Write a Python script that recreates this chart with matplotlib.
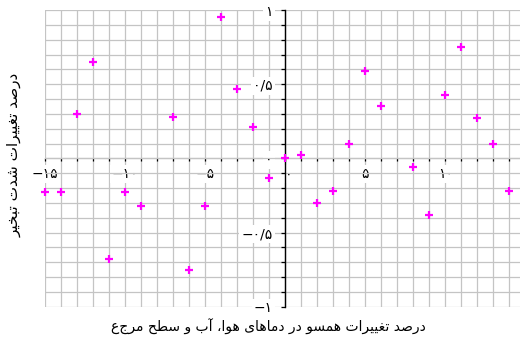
import numpy as np
import matplotlib.pyplot as plt
from matplotlib.transforms import ScaledTranslation

# values
x_vals = [-15, -14, -13, -12, -11, -10, -9, -7, -6, -5, -4, -3, -2, -1,
          0, 1, 2, 3, 4, 5, 6, 8, 9, 10, 11, 12, 13, 14]
y_vals = [-0.23, -0.23, 0.30, 0.65, -0.68, -0.23, -0.32, 0.28, -0.75, -0.32,
          0.95, 0.47, 0.21, -0.13, 0.00, 0.02, -0.30, -0.22, 0.10, 0.59,
          0.35, -0.06, -0.38, 0.43, 0.75, 0.27, 0.10, -0.22]

x_label = "درصد تغییرات همسو در دماهای هوا، آب و سطح مرجع"
y_label = "درصد تغییرات شدت تبخیر"

x_major = [-15, -10, -5, 0, 5, 10, 15]
y_major = [-1, -0.5, 0, 0.5, 1]

# presentation forms: isolated, final, initial, medial
FORMS = {
    'ا': ('\uFE8D', '\uFE8E', None, None),
    'آ': ('\uFE81', '\uFE82', None, None),
    'ب': ('\uFE8F', '\uFE90', '\uFE91', '\uFE92'),
    'ت': ('\uFE95', '\uFE96', '\uFE97', '\uFE98'),
    'ج': ('\uFE9D', '\uFE9E', '\uFE9F', '\uFEA0'),
    'ح': ('\uFEA1', '\uFEA2', '\uFEA3', '\uFEA4'),
    'خ': ('\uFEA5', '\uFEA6', '\uFEA7', '\uFEA8'),
    'د': ('\uFEA9', '\uFEAA', None, None),
    'ر': ('\uFEAD', '\uFEAE', None, None),
    'س': ('\uFEB1', '\uFEB2', '\uFEB3', '\uFEB4'),
    'ش': ('\uFEB5', '\uFEB6', '\uFEB7', '\uFEB8'),
    'ص': ('\uFEB9', '\uFEBA', '\uFEBB', '\uFEBC'),
    'ط': ('\uFEC1', '\uFEC2', '\uFEC3', '\uFEC4'),
    'غ': ('\uFECD', '\uFECE', '\uFECF', '\uFED0'),
    'م': ('\uFEE1', '\uFEE2', '\uFEE3', '\uFEE4'),
    'ه': ('\uFEE9', '\uFEEA', '\uFEEB', '\uFEEC'),
    'و': ('\uFEED', '\uFEEE', None, None),
    'ی': ('\uFEEF', '\uFEF0', '\uFEF3', '\uFEF4'),
}


def shape(text):
    # join the letters and flip for right-to-left display
    out = []
    for i, ch in enumerate(text):
        if ch not in FORMS:
            out.append(ch)
            continue
        prev = text[i - 1] if i > 0 else ''
        nxt = text[i + 1] if i + 1 < len(text) else ''
        iso, fin, ini, med = FORMS[ch]
        jp = prev in FORMS and FORMS[prev][2] is not None
        jn = ini is not None and nxt in FORMS
        if jp and jn:
            out.append(med)
        elif jp:
            out.append(fin)
        elif jn:
            out.append(ini)
        else:
            out.append(iso)
    return ''.join(reversed(out))


def fa_num(v):
    s = ('%g' % (v + 0.0)).replace('-', '\u2212').replace('.', '/')
    return s.translate(str.maketrans('0123456789', '۰۱۲۳۴۵۶۷۸۹'))


fig = plt.figure(figsize=(5.2, 3.39), dpi=100)
ax = fig.add_axes([45.3 / 520, 32.3 / 339, 480 / 520, 296.7 / 339])

ax.set_xlim(-15, 15)
ax.set_ylim(-1, 1)

xt = np.arange(-15, 16)
yt = np.round(np.arange(-1, 1.01, 0.1), 1) + 0.0
ax.set_xticks(xt)
ax.set_yticks(yt)
ax.set_xticklabels([fa_num(v) if v in x_major else '' for v in xt])
ax.set_yticklabels([fa_num(v) if v in y_major else '' for v in yt])

ax.grid(True, color='#c4c4c4', linewidth=0.9)
ax.set_axisbelow(True)

ax.spines['top'].set_visible(False)
ax.spines['right'].set_visible(False)
ax.spines['left'].set_position(('data', 0))
ax.spines['bottom'].set_position(('data', 0))
ax.spines['left'].set_color('black')
ax.spines['left'].set_linewidth(1.0)
ax.spines['bottom'].set_color('#c4c4c4')
ax.spines['bottom'].set_linewidth(0.9)

ax.tick_params(axis='x', direction='out', length=2.5, width=0.9, color='black',
               pad=4, labelsize=10)
ax.tick_params(axis='y', direction='out', length=3, width=0.9, color='black',
               pad=6, labelsize=10)
for lbl in ax.get_xticklabels() + ax.get_yticklabels():
    lbl.set_bbox(dict(facecolor='white', edgecolor='none', pad=1.5))

# the x "0" sits just right of the vertical axis
zero_lbl = ax.get_xticklabels()[list(xt).index(0)]
zero_lbl.set_transform(zero_lbl.get_transform()
                       + ScaledTranslation(3 / 100, 0, fig.dpi_scale_trans))

ax.plot(x_vals, y_vals, '+', color='#ff00ff', markersize=6, markeredgewidth=1.6,
        clip_on=False, zorder=5)

fig.text(268 / 520, 1 - 327 / 339, shape(x_label), ha='center', va='center',
         fontsize=10)
fig.text(14 / 520, 1 - 155 / 339, shape(y_label), ha='center', va='center',
         fontsize=11, rotation=90)

fig.savefig('out.png', dpi=100)
